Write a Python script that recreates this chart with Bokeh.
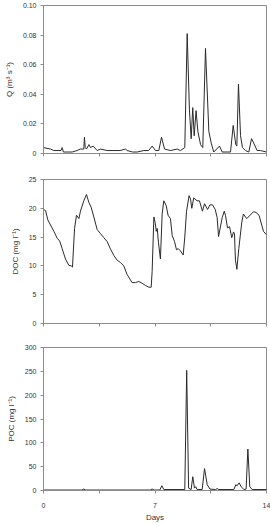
from bokeh.plotting import figure
from bokeh.layouts import column
from bokeh.models import Range1d, FixedTicker
from bokeh.embed import file_html
from bokeh.resources import INLINE

# ---------------- data ----------------
q_days = [0.00, 0.44, 0.65, 1.10, 1.17, 1.25, 1.49, 1.80, 2.11, 2.30, 2.53, 2.57, 2.62, 2.70, 2.85,
          2.95, 3.12, 3.37, 3.58, 4.00, 4.42, 4.80, 5.15, 5.25, 5.60, 5.88, 6.30, 6.60, 6.82,
          7.03, 7.24, 7.41, 7.60, 7.97, 8.39, 8.60, 8.87, 9.02, 9.16, 9.27, 9.37, 9.46, 9.58,
          9.69, 9.86, 10.00, 10.17, 10.38, 10.53, 10.69, 11.05, 11.22, 11.74, 11.91, 12.07,
          12.14, 12.24, 12.37, 12.49, 12.68, 12.89, 13.06, 13.20, 13.41, 13.62, 14.00]
q_vals = [0.004, 0.003, 0.002, 0.002, 0.004, 0.001, 0.001, 0.001, 0.002, 0.003, 0.003, 0.011, 0.004, 0.003, 0.006,
          0.004, 0.005, 0.002, 0.003, 0.002, 0.002, 0.002, 0.003, 0.002, 0.001, 0.001, 0.002, 0.002, 0.005,
          0.002, 0.002, 0.011, 0.003, 0.002, 0.003, 0.002, 0.004, 0.081, 0.030, 0.010, 0.031, 0.012, 0.029,
          0.015, 0.006, 0.004, 0.071, 0.015, 0.007, 0.001, 0.005, 0.001, 0.001, 0.019, 0.006,
          0.005, 0.047, 0.012, 0.004, 0.002, 0.001, 0.010, 0.007, 0.002, 0.002, 0.001]

doc_days = [0.00, 0.13, 0.27, 0.44, 0.65, 0.86, 1.02, 1.17, 1.38, 1.59, 1.74, 1.82, 1.95, 2.07, 2.22,
            2.32, 2.53, 2.70, 2.85, 2.99, 3.16, 3.37, 3.58, 3.79, 4.00, 4.21, 4.42, 4.62, 4.83,
            5.04, 5.25, 5.56, 5.77, 5.98, 6.19, 6.40, 6.61, 6.76, 6.82, 6.93, 7.01, 7.08, 7.14,
            7.22, 7.34, 7.45, 7.55, 7.70, 7.82, 7.97, 8.08, 8.23, 8.35, 8.46, 8.60, 8.77, 8.87,
            8.98, 9.14, 9.23, 9.31, 9.43, 9.64, 9.79, 9.98, 10.11, 10.30, 10.45, 10.61, 10.78,
            10.90, 10.99, 11.22, 11.35, 11.43, 11.55, 11.68, 11.72, 11.82, 11.93, 11.99, 12.05,
            12.14, 12.26, 12.45, 12.55, 12.76, 12.97, 13.18, 13.34, 13.53, 13.81, 14.00]
doc_vals = [19.8, 19.6, 18.0, 17.1, 16.0, 14.8, 14.3, 13.0, 11.2, 10.1, 10.0, 9.8, 16.5, 18.8, 18.2,
            19.5, 21.3, 22.4, 21.0, 20.2, 18.5, 16.3, 15.6, 14.9, 14.2, 12.9, 11.8, 11.0, 10.6,
            10.0, 8.5, 7.1, 7.1, 7.3, 7.0, 6.6, 6.3, 6.3, 9.0, 18.5, 17.5, 16.0, 16.5,
            14.0, 11.2, 19.0, 21.3, 20.5, 18.8, 18.2, 15.3, 14.2, 12.8, 13.0, 12.6, 11.9, 15.0,
            19.5, 22.2, 21.6, 20.0, 21.8, 21.3, 21.3, 19.5, 20.8, 19.8, 20.6, 20.6, 19.8,
            18.4, 15.1, 18.4, 19.5, 18.7, 16.6, 16.8, 16.3, 14.9, 15.9, 15.6, 11.0,
            9.4, 13.0, 17.6, 19.0, 18.2, 18.8, 19.4, 19.3, 18.8, 16.0, 15.4, 14.6]

poc_days = [0.00, 1.00, 2.40, 2.53, 2.65, 4.00, 6.70, 6.82, 6.95, 7.30, 7.43, 7.55, 8.87, 8.99,
            9.11, 9.27, 9.37, 9.48, 9.56, 9.64, 9.96, 10.11, 10.28, 10.45, 10.80, 10.90, 11.01,
            11.95, 12.07, 12.16, 12.28, 12.41, 12.58, 12.72, 12.83, 12.95, 13.10, 14.00]
poc_vals = [1, 1, 1, 3, 1, 1, 1, 3, 1, 1, 10, 2, 2, 252,
            5, 2, 29, 5, 8, 2, 2, 46, 12, 3, 2, 4, 2,
            2, 12, 10, 16, 8, 2, 3, 87, 8, 2, 2]

x_ticks = [0, 3.5, 7, 10.5, 14]
x_labels = ["0", "", "7", "", "14"]
q_ticks = [0, 0.02, 0.04, 0.06, 0.08, 0.10]
q_labels = ["0", "0.02", "0.04", "0.06", "0.08", "0.10"]
doc_ticks = [0, 5, 10, 15, 20, 25]
poc_ticks = [0, 50, 100, 150, 200, 250, 300]

FONT = "Liberation Sans"
AX = "#8c8c8c"
LINE = "#2a2a2a"


def make(height, top, bottom, yr, yticks, ylabels, ylab, show_x):
    p = figure(width=270, height=height, output_backend="svg", toolbar_location=None,
               x_range=Range1d(0, 14), y_range=Range1d(*yr),
               min_border_left=43, min_border_right=4, min_border_top=top,
               min_border_bottom=bottom)
    p.grid.visible = False
    p.outline_line_color = AX
    p.background_fill_color = "white"
    p.border_fill_color = "white"
    for ax in (p.xaxis[0], p.yaxis[0]):
        ax.axis_line_color = AX
        ax.major_tick_line_color = AX
        ax.minor_tick_line_color = None
        ax.major_tick_in = 0
        ax.major_tick_out = 3
        ax.major_label_text_font = FONT
        ax.major_label_text_font_size = "7px"
        ax.major_label_text_color = "#333333"
        ax.axis_label_text_font = FONT
        ax.axis_label_text_font_size = "8px"
        ax.axis_label_text_font_style = "normal"
        ax.axis_label_text_color = "#333333"
    p.xaxis.ticker = FixedTicker(ticks=x_ticks)
    if show_x:
        p.xaxis.major_label_overrides = dict(zip(x_ticks, x_labels))
        p.xaxis.axis_label = "Days"
        p.xaxis.major_label_standoff = 9
        p.xaxis.axis_label_standoff = 2
    else:
        p.xaxis.major_label_overrides = {t: "" for t in x_ticks}
    p.yaxis.ticker = FixedTicker(ticks=yticks)
    p.yaxis.major_label_overrides = dict(zip(yticks, ylabels))
    p.yaxis.major_label_standoff = 4
    p.yaxis.axis_label = ylab
    p.yaxis.axis_label_standoff = 6
    return p


p1 = make(170, 5, 17, (0, 0.10), q_ticks, q_labels, "Q (m³ s⁻¹)", False)
p1.line(q_days, q_vals, line_color=LINE, line_width=1)

p2 = make(170, 9, 17, (0, 25), doc_ticks, [str(t) for t in doc_ticks], "DOC (mg l⁻¹)", False)
p2.line(doc_days, doc_vals, line_color=LINE, line_width=1)

p3 = make(184, 7, 33, (0, 300), poc_ticks, [str(t) for t in poc_ticks], "POC (mg l⁻¹)", True)
p3.line(poc_days, poc_vals, line_color=LINE, line_width=1)

layout = column(p1, p2, p3, spacing=0)
open("out.html", "w").write(file_html(layout, INLINE))
